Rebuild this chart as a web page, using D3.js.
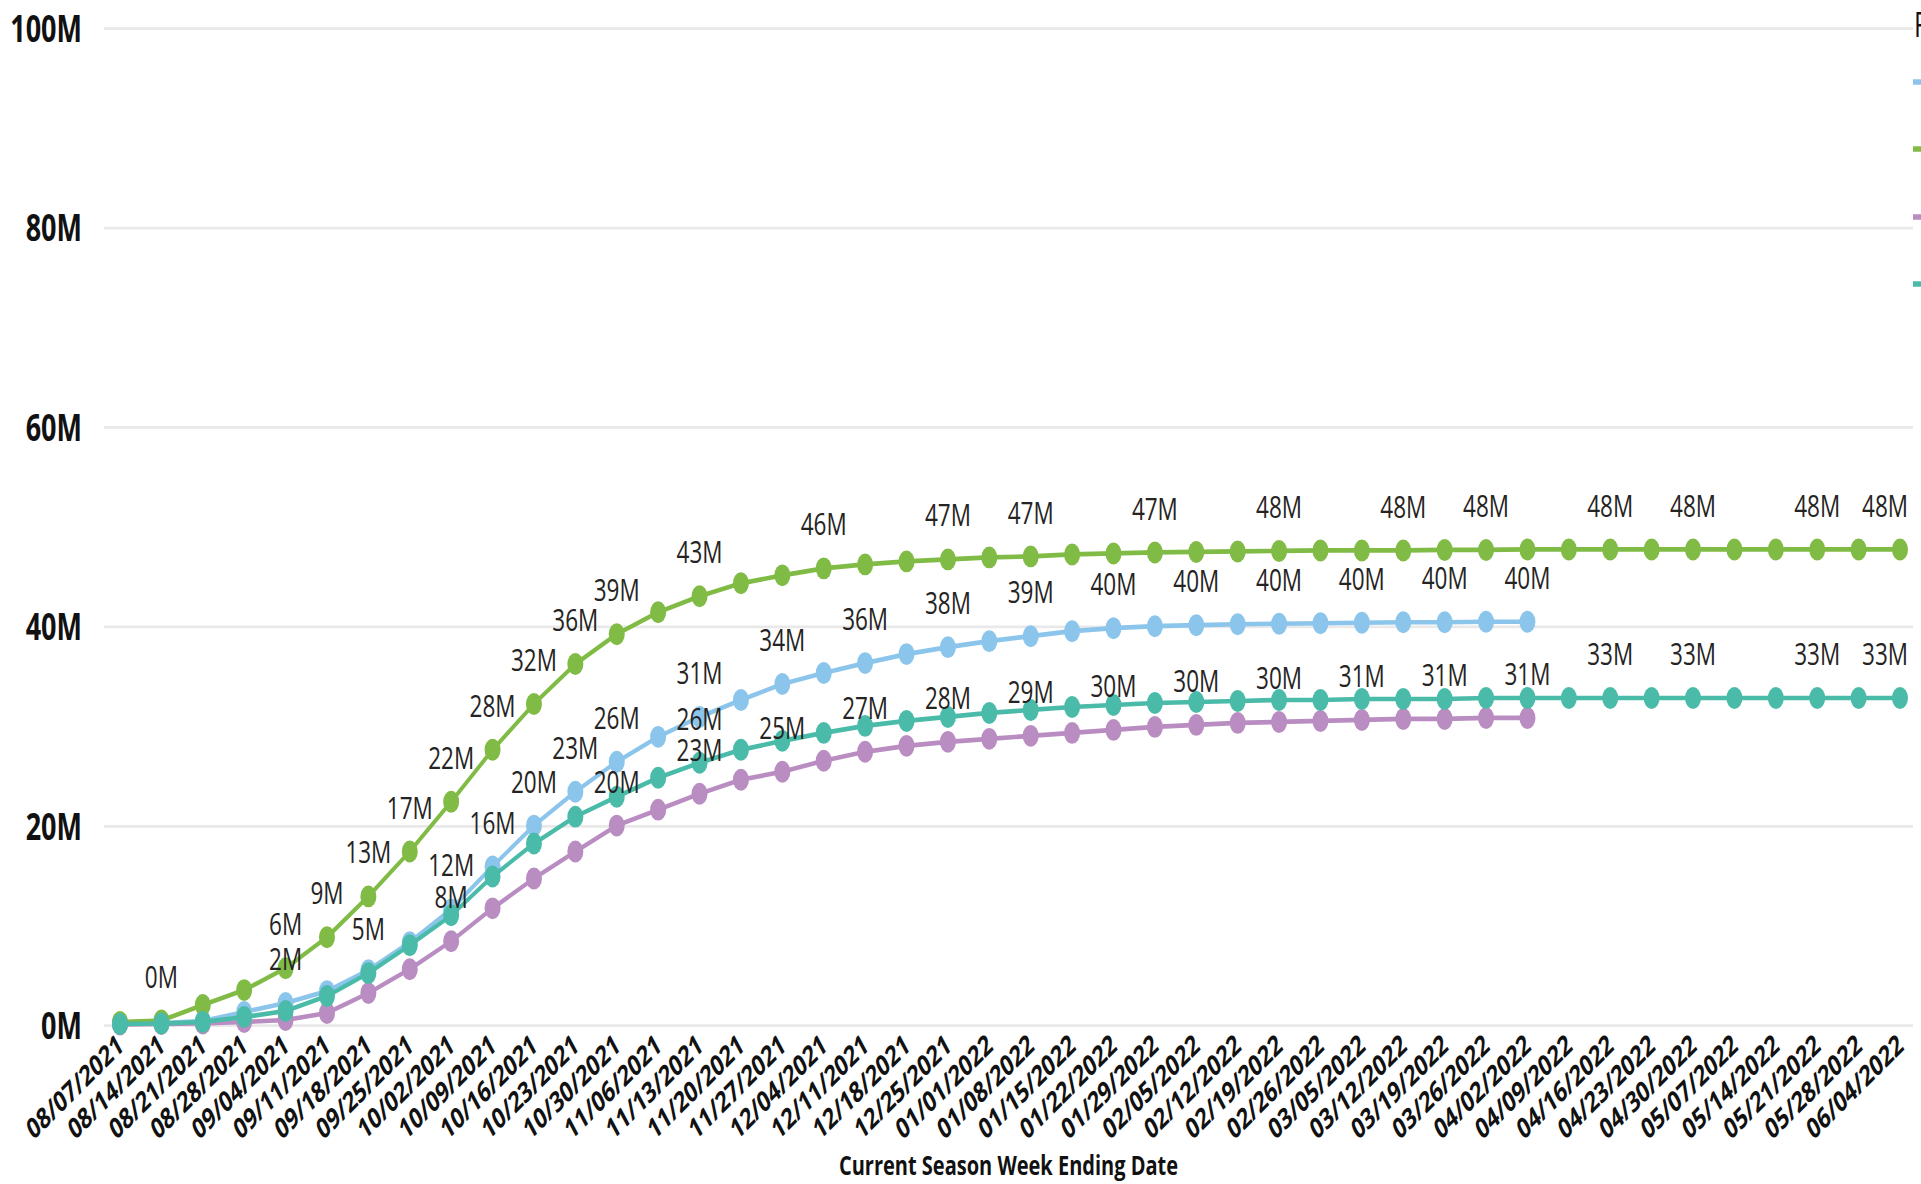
<!DOCTYPE html>
<html><head><meta charset="utf-8">
<script src="https://cdn.jsdelivr.net/npm/d3@7"></script>
<style>html,body{margin:0;padding:0;background:#fff;overflow:hidden}svg{display:block}</style>
</head><body>
<svg id="chart" width="1921" height="1184" viewBox="0 0 1921 864" preserveAspectRatio="none"></svg>
<script>
// ---- data ----
const weeks = ["08/07/2021","08/14/2021","08/21/2021","08/28/2021","09/04/2021","09/11/2021","09/18/2021","09/25/2021","10/02/2021","10/09/2021","10/16/2021","10/23/2021","10/30/2021","11/06/2021","11/13/2021","11/20/2021","11/27/2021","12/04/2021","12/11/2021","12/18/2021","12/25/2021","01/01/2022","01/08/2022","01/15/2022","01/22/2022","01/29/2022","02/05/2022","02/12/2022","02/19/2022","02/26/2022","03/05/2022","03/12/2022","03/19/2022","03/26/2022","04/02/2022","04/09/2022","04/16/2022","04/23/2022","04/30/2022","05/07/2022","05/14/2022","05/21/2022","05/28/2022","06/04/2022"];
const yTicks = [0, 20, 40, 60, 80, 100];
const legendTitle = "Reporting Season";
const seriesNames = ["2018-2019", "2019-2020", "2020-2021", "2021-2022"];
const seriesColors = ["#8CC5EB", "#80BB45", "#B98DC1", "#4BBBA9"];
const blueValues = [0.1,0.2,0.4,1.3,2.2,3.4,5.5,8.3,11.6,15.9,20.0,23.4,26.4,28.9,30.9,32.6,34.2,35.3,36.3,37.2,37.9,38.5,39.0,39.5,39.8,40.0,40.1,40.2,40.25,40.3,40.35,40.4,40.4,40.45,40.45];
const greenValues = [0.3,0.45,2.0,3.5,5.7,8.8,12.9,17.4,22.4,27.6,32.2,36.2,39.2,41.4,43.0,44.3,45.1,45.8,46.2,46.5,46.7,46.9,47.0,47.2,47.3,47.4,47.45,47.5,47.55,47.6,47.6,47.6,47.65,47.65,47.7,47.7,47.7,47.7,47.7,47.7,47.7,47.7,47.7,47.7];
const purpleValues = [0.05,0.1,0.15,0.3,0.5,1.2,3.2,5.6,8.4,11.7,14.7,17.4,20.0,21.6,23.2,24.6,25.4,26.5,27.4,28.0,28.4,28.7,29.0,29.3,29.6,29.9,30.1,30.3,30.4,30.5,30.6,30.7,30.7,30.8,30.8];
const tealValues = [0.1,0.15,0.3,0.8,1.4,2.9,5.2,8.0,11.0,14.9,18.2,20.9,22.9,24.8,26.3,27.6,28.5,29.3,30.0,30.5,30.9,31.3,31.6,31.9,32.1,32.3,32.4,32.5,32.6,32.6,32.7,32.7,32.7,32.8,32.8,32.8,32.8,32.8,32.8,32.8,32.8,32.8,32.8,32.8];
// indices of points that carry a visible data label
const blueLabelIdx = [4,8,9,10,11,12,14,16,18,20,22,24,26,28,30,32,34];
const greenLabelIdx = [1,4,5,6,7,8,9,10,11,12,14,17,20,22,25,28,31,33,36,38,41,43];
const purpleLabelIdx = [8,12,14,16,18,20,22,24,26,28,30,32,34];
const tealLabelIdx = [6,14,36,38,41,43];

const series = [
  {name: seriesNames[0], color: seriesColors[0], values: blueValues, labels: blueLabelIdx},
  {name: seriesNames[1], color: seriesColors[1], values: greenValues, labels: greenLabelIdx},
  {name: seriesNames[2], color: seriesColors[2], values: purpleValues, labels: purpleLabelIdx},
  {name: seriesNames[3], color: seriesColors[3], values: tealValues, labels: tealLabelIdx}
];

// ---- layout (internal coordinates, stretched vertically by K) ----
const K = 1184 / 864;
const FONT = "'Open Sans', 'Noto Sans', sans-serif";
const svg = d3.select("#chart");
const plotL = 104, plotR = 1913;
const x = d3.scalePoint().domain(weeks).range([120, 1900]);
const y = d3.scaleLinear().domain([0, 100]).range([1025 / K, 28 / K]);

// gridlines
const grid = svg.append("g").attr("transform", `translate(${plotL},0)`)
  .call(d3.axisLeft(y).tickValues(yTicks).tickSize(-(plotR - plotL)).tickFormat(""));
grid.select(".domain").remove();
grid.selectAll(".tick line").attr("stroke", "#e9e9e9").attr("stroke-width", 2);

// y axis labels
const yAx = svg.append("g").attr("transform", "translate(82,0)")
  .call(d3.axisLeft(y).tickValues(yTicks).tickSize(0).tickPadding(0).tickFormat(d => d + "M"));
yAx.select(".domain").remove();
yAx.selectAll("text").attr("font-family", FONT).attr("font-weight", 700)
  .attr("font-size", 27).attr("fill", "#111").attr("dy", "0.36em");

// x axis labels
const xAx = svg.append("g").attr("transform", `translate(0,${1041 / K})`)
  .call(d3.axisBottom(x).tickSize(0).tickPadding(0));
xAx.select(".domain").remove();
xAx.selectAll("text").attr("font-family", FONT).attr("font-weight", 700)
  .attr("font-size", 21).attr("fill", "#111")
  .attr("x", 0).attr("y", 0).attr("dy", "0.35em")
  .attr("text-anchor", "end")
  .attr("transform", `rotate(${-Math.atan(1 / K) * 180 / Math.PI})`);

// axis title
svg.append("text").attr("x", (plotL + plotR) / 2).attr("y", 1175 / K)
  .attr("text-anchor", "middle").attr("font-family", FONT).attr("font-weight", 700)
  .attr("font-size", 20).attr("fill", "#111").text("Current Season Week Ending Date");

// lines & markers
const line = d3.line().x((d, i) => x(weeks[i])).y(d => y(d));
series.forEach(s => {
  const g = svg.append("g");
  g.append("path").datum(s.values).attr("d", line).attr("fill", "none")
    .attr("stroke", s.color).attr("stroke-width", 3.4).attr("stroke-linejoin", "round");
  g.selectAll("circle").data(s.values).join("circle")
    .attr("cx", (d, i) => x(weeks[i])).attr("cy", d => y(d)).attr("r", 8).attr("fill", s.color);
});

// data labels
series.forEach(s => {
  s.labels.forEach(i => {
    const t = svg.append("text").attr("x", x(weeks[i])).attr("y", y(s.values[i]) - 24)
      .attr("text-anchor", "middle").attr("font-family", FONT).attr("font-size", 22.5)
      .attr("fill", "#252423").text(Math.round(s.values[i]) + "M");
    const w = t.node().getComputedTextLength();
    const cx = Math.min(x(weeks[i]), 1908 - w / 2);
    t.attr("x", cx);
  });
});

// legend (mostly outside the visible area on the right)
const lg = svg.append("g");
lg.append("text").attr("x", 1914).attr("y", 37 / K).attr("font-family", FONT)
  .attr("font-size", 25).attr("fill", "#111").text(legendTitle);
const legendY = [82, 149, 217, 284];
series.forEach((s, i) => {
  lg.append("rect").attr("x", 1913).attr("y", legendY[i] / K - 2).attr("width", 20).attr("height", 4)
    .attr("fill", s.color);
  lg.append("text").attr("x", 1940).attr("y", legendY[i] / K).attr("dy", "0.35em")
    .attr("font-family", FONT).attr("font-size", 22).attr("fill", "#111").text(s.name);
});
</script>
</body></html>
